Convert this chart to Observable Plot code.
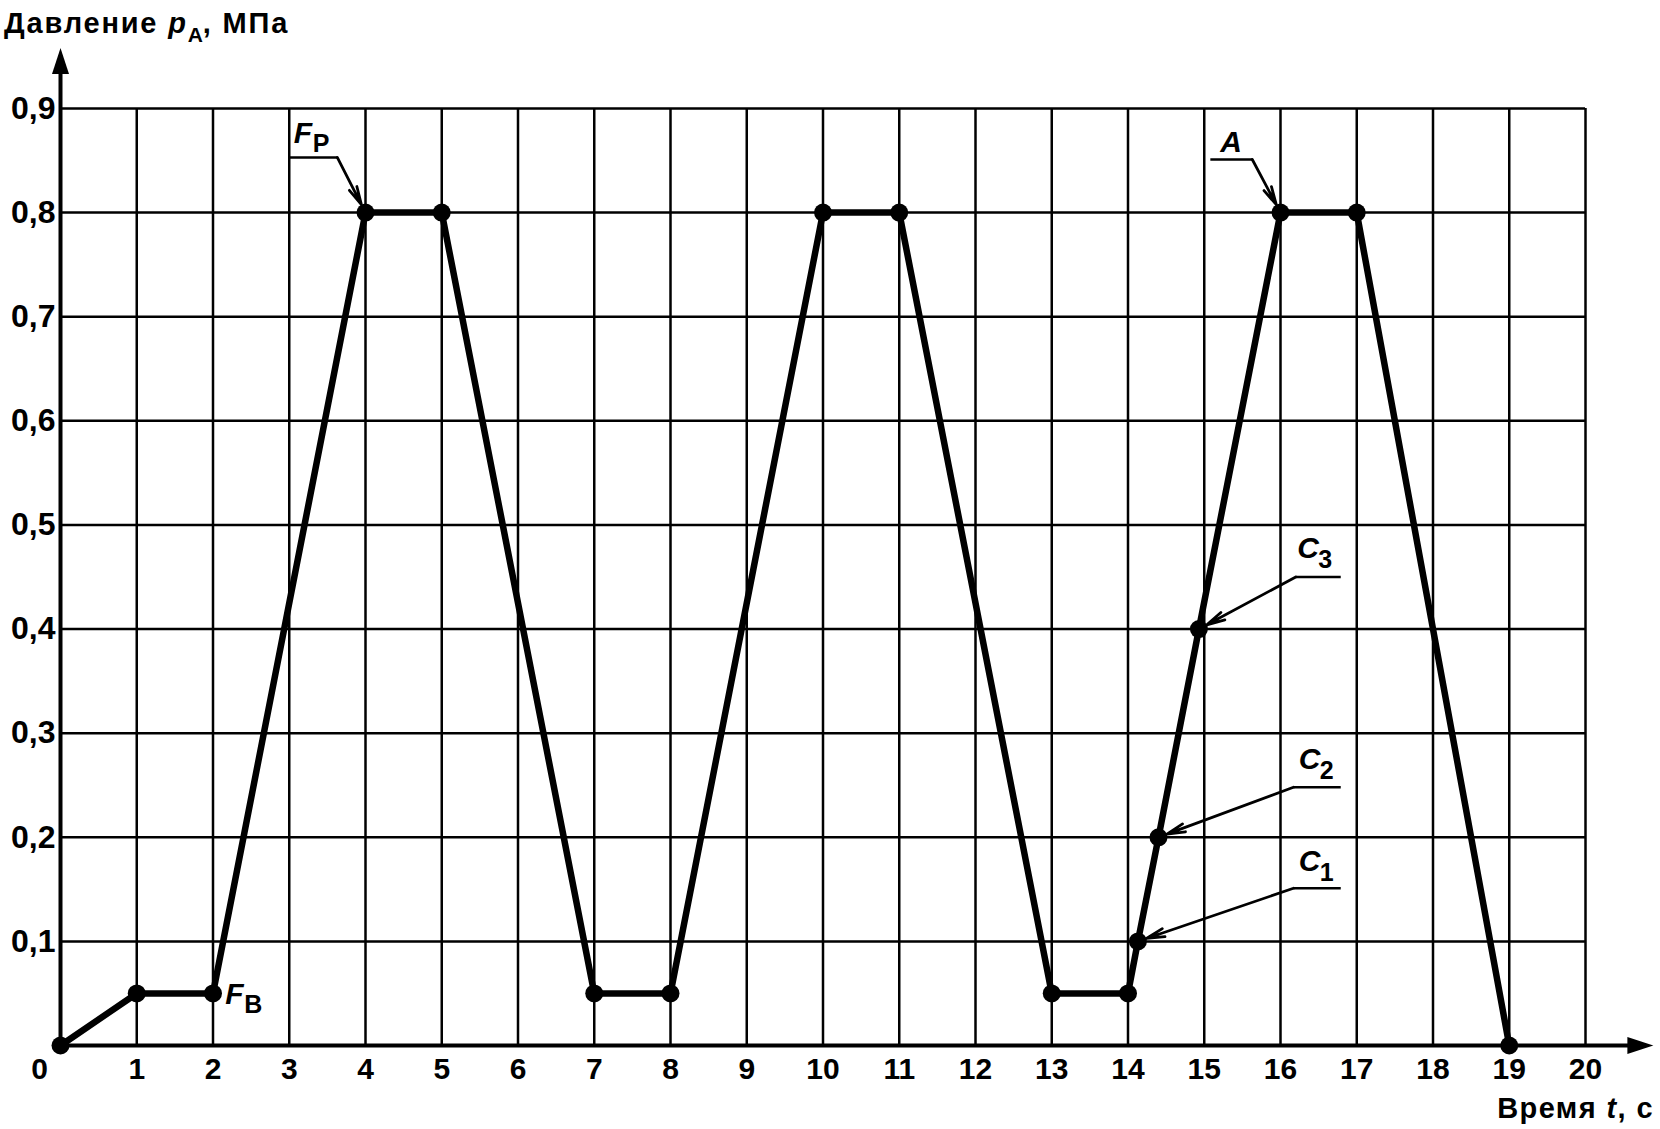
<!DOCTYPE html>
<html>
<head>
<meta charset="utf-8">
<script src="https://cdn.jsdelivr.net/npm/d3@7"></script>
<script src="https://cdn.jsdelivr.net/npm/@observablehq/plot@0.6"></script>
<style>
  html, body { margin: 0; padding: 0; background: #fff; }
  #page { width: 1660px; height: 1129px; font-family: "Liberation Sans", Arial, sans-serif; color: #000; }
  #title { position: relative; height: 46px; }
  #title span.t { position: absolute; left: 4px; top: 9px; font-size: 29px; font-weight: bold; letter-spacing: 1.8px; line-height: 1; white-space: nowrap; }
  #title .sub { font-size: 21px; position: relative; top: 9px; letter-spacing: 0; }
  #xlabel { position: relative; height: 39px; }
  #xlabel span.t { position: absolute; right: 6px; top: 4px; font-size: 29px; font-weight: bold; letter-spacing: 1.4px; line-height: 1; white-space: nowrap; }
  #chart svg { display: block; }
</style>
</head>
<body>
<div id="page">
  <div id="title"><span class="t">Давление <i>p</i><span class="sub">A</span>, МПа</span></div>
  <div id="chart"></div>
  <div id="xlabel"><span class="t">Время <i>t</i>, с</span></div>
</div>
<script>
// ---- data ----
const timeS = [0, 1, 2, 4, 5, 7, 8, 10, 11, 13, 14, 14.13, 14.4, 14.93, 16, 17, 19];
const pressureMPa = [0, 0.05, 0.05, 0.8, 0.8, 0.05, 0.05, 0.8, 0.8, 0.05, 0.05, 0.1, 0.2, 0.4, 0.8, 0.8, 0];

const xTicks = [1, 2, 3, 4, 5, 6, 7, 8, 9, 10, 11, 12, 13, 14, 15, 16, 17, 18, 19, 20];
const yTicks = [0.1, 0.2, 0.3, 0.4, 0.5, 0.6, 0.7, 0.8, 0.9];

// annotations (label, subscript, label position, leader & arrow)
const annMain = ["F", "A", "C", "C", "C", "F"];
const annSub = ["P", "", "3", "2", "1", "B"];
const annTextT = [3.06, 15.21, 16.22, 16.24, 16.24, 2.16];
const annTextP = [0.867, 0.858, 0.468, 0.266, 0.168, 0.040];
const annTargetT = [4, 16, 14.93, 14.4, 14.13];
const annTargetP = [0.8, 0.8, 0.4, 0.2, 0.1];
const annKneeT = [3.63, 15.63, 16.2, 16.17, 16.17];
const annFarT = [2.99, 15.08, 16.79, 16.79, 16.79];
const annLeaderP = [0.853, 0.851, 0.45, 0.248, 0.151];

// ---- build tables ----
const points = timeS.map((t, i) => ({t, p: pressureMPa[i]}));
const labels = annMain.map((m, i) => ({main: m, sub: annSub[i], t: annTextT[i], p: annTextP[i]}));
const leaders = annTargetT.map((t, i) => ({
  tt: t, tp: annTargetP[i], kt: annKneeT[i], ft: annFarT[i], lp: annLeaderP[i]
}));

const subDx = {F: 19, A: 20, C: 21};
const subDy = {F: 9, A: 9, C: 10};

const arrowHead = {
  draw(context) {
    context.moveTo(0, 0);
    context.lineTo(8.5, 26);
    context.lineTo(-8.5, 26);
    context.closePath();
  }
};

const gridStyle = {stroke: "black", strokeWidth: 2.5};

const subMarks = labels.filter(d => d.sub).map(d =>
  Plot.text([d], {
    x: "t", y: "p", text: "sub",
    textAnchor: "start", lineAnchor: "bottom",
    dx: subDx[d.main], dy: subDy[d.main],
    fontSize: 25, fontWeight: "bold", fill: "black"
  })
);

const chart = Plot.plot({
  width: 1660,
  height: 1044,
  marginLeft: 60,
  marginRight: 75,
  marginTop: 62,
  marginBottom: 45,
  style: {fontFamily: "'Liberation Sans', Arial, sans-serif", fontSize: "29px", fontWeight: "bold", color: "black", background: "white"},
  x: {domain: [0, 20]},
  y: {domain: [0, 0.9]},
  marks: [
    // grid
    Plot.ruleX(xTicks, {y1: 0, y2: 0.9, ...gridStyle}),
    Plot.ruleY(yTicks, {x1: 0, x2: 20, ...gridStyle}),
    // axes with arrows
    Plot.ruleX([0], {y1: 0, y2: 0.945, stroke: "black", strokeWidth: 4}),
    Plot.ruleY([0], {x1: 0, x2: 20.8, stroke: "black", strokeWidth: 4}),
    Plot.dot([0], {x: 0, y: 0.958, symbol: arrowHead, fill: "black", stroke: "none"}),
    Plot.dot([0], {x: 20.89, y: 0, symbol: arrowHead, rotate: 90, fill: "black", stroke: "none"}),
    Plot.axisX(xTicks, {tickSize: 0, tickPadding: 12, fontSize: 30, fontWeight: "bold"}),
    Plot.axisX([0], {tickSize: 0, tickPadding: 12, dx: -21, fontSize: 30, fontWeight: "bold"}),
    Plot.axisY(yTicks, {tickSize: 0, tickPadding: 5, fontSize: 32, fontWeight: "bold", tickFormat: d => d.toFixed(1).replace(".", ",")}),
    // data
    Plot.line(points, {x: "t", y: "p", stroke: "black", strokeWidth: 6.5, strokeLinejoin: "round"}),
    Plot.dot(points, {x: "t", y: "p", r: 9, fill: "black", stroke: "none"}),
    // annotation leaders
    Plot.link(leaders, {x1: "ft", y1: "lp", x2: "kt", y2: "lp", stroke: "black", strokeWidth: 2.5}),
    Plot.arrow(leaders, {x1: "kt", y1: "lp", x2: "tt", y2: "tp", stroke: "black", strokeWidth: 2.8,
      headAngle: 26, headLength: 10, insetEnd: 9}),
    // annotation labels
    Plot.text(labels, {x: "t", y: "p", text: "main", textAnchor: "start", lineAnchor: "bottom",
      fontSize: 30, fontStyle: "italic", fontWeight: "bold", fill: "black"}),
    ...subMarks
  ]
});

document.getElementById("chart").appendChild(chart);
</script>
</body>
</html>
